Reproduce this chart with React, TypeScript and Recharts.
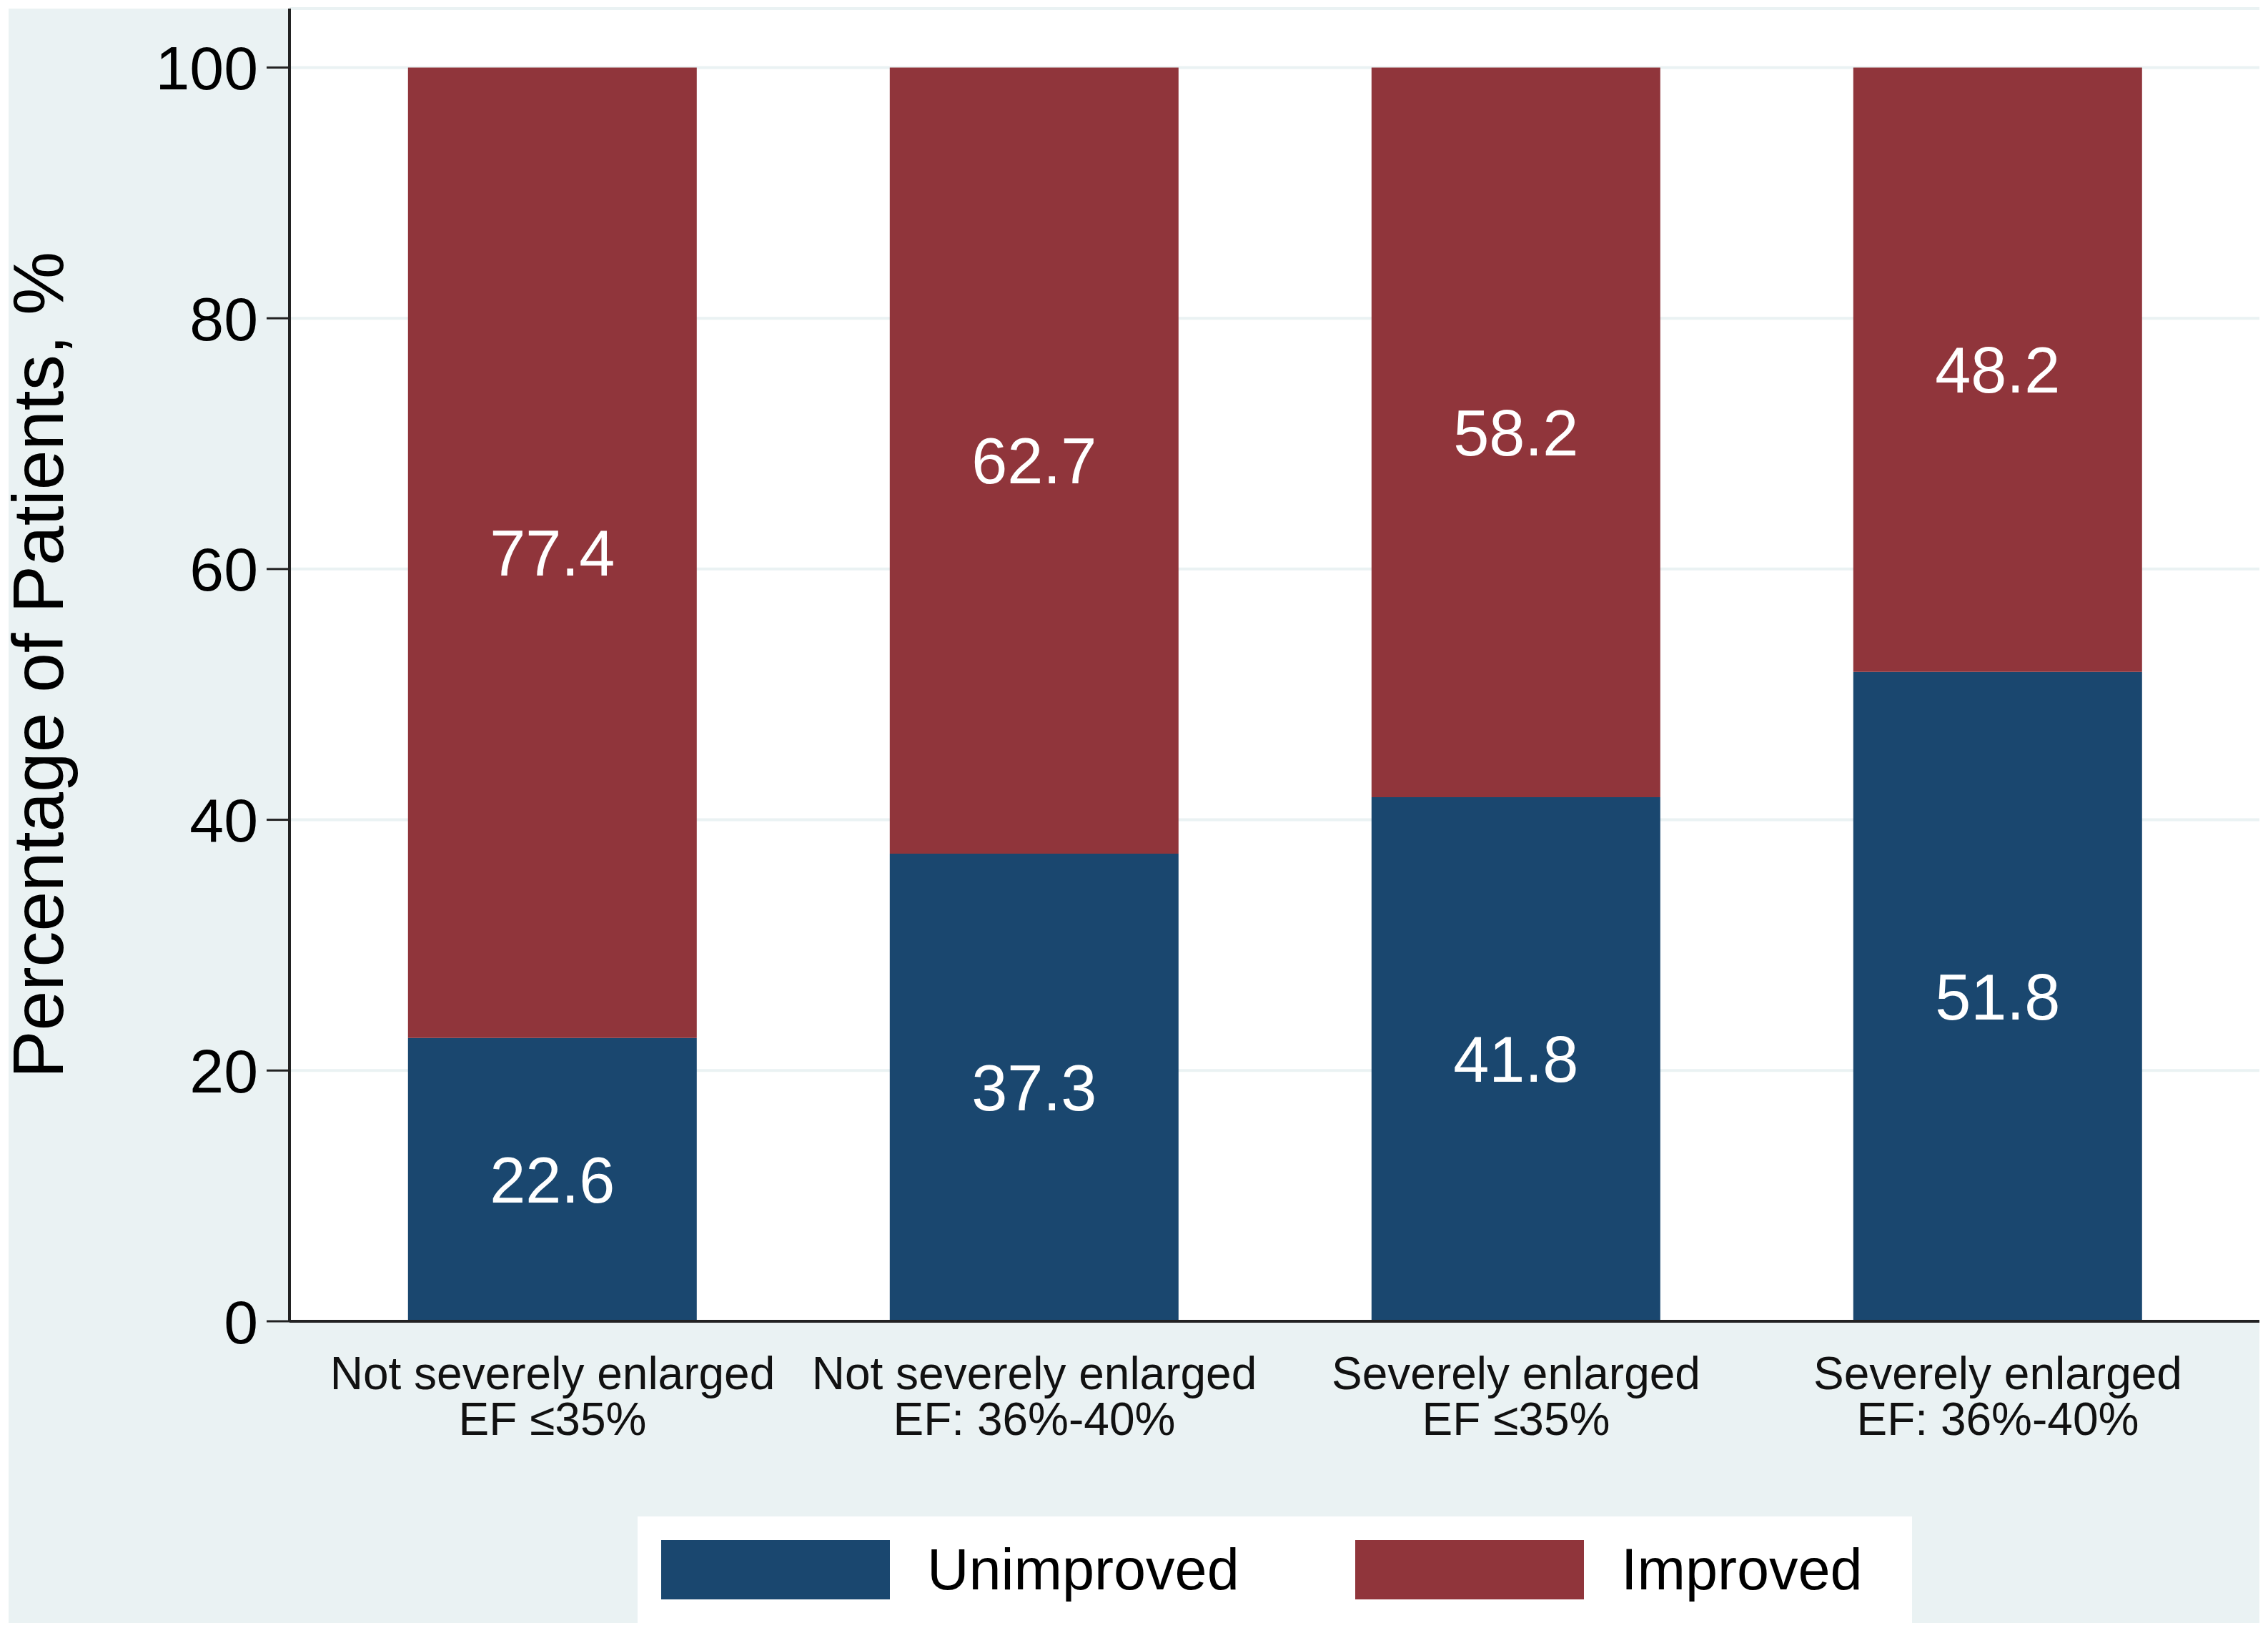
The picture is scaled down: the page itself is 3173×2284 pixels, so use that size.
import { BarChart, Bar, XAxis, YAxis, CartesianGrid, Legend, LabelList } from 'recharts';

// ── Data ──────────────────────────────────────────────────────────────────────

const categories = [
  'Not severely enlarged\nEF ≤35%',
  'Not severely enlarged\nEF: 36%-40%',
  'Severely enlarged\nEF ≤35%',
  'Severely enlarged\nEF: 36%-40%',
];
const unimproved = [22.6, 37.3, 41.8, 51.8];
const improved = [77.4, 62.7, 58.2, 48.2];
const yTicks = [0, 20, 40, 60, 80, 100];
const legendOrder = ['Unimproved', 'Improved'];

const rows = categories.map((name, i) => ({
  name,
  unimproved: unimproved[i],
  improved: improved[i],
}));

// ── Style ─────────────────────────────────────────────────────────────────────

const FONT = '"Liberation Sans", Arial, sans-serif';
const PANEL = '#eaf2f3';
const BLUE = '#1a476f';
const RED = '#90353b';

function CategoryTick({ x, y, payload }: any) {
  const lines = String(payload.value).split('\n');
  return (
    <text x={x} y={y} textAnchor="middle" fontSize={64} fill="#111" fontFamily={FONT}>
      {lines.map((l, i) => (
        <tspan key={i} x={x} dy={i === 0 ? 95 : 64}>{l}</tspan>
      ))}
    </text>
  );
}

function LegendBox({ payload }: any) {
  const items = [...(payload || [])].sort(
    (a: any, b: any) => legendOrder.indexOf(a.value) - legendOrder.indexOf(b.value),
  );
  return (
    <div
      style={{
        width: 1783,
        height: 149,
        background: '#fff',
        display: 'flex',
        alignItems: 'center',
        paddingLeft: 33,
        boxSizing: 'border-box',
      }}
    >
      {items.map((p: any, i: number) => (
        <div
          key={p.value}
          style={{ display: 'flex', alignItems: 'center', flexShrink: 0, width: i === 0 ? 971 : 'auto' }}
        >
          <div style={{ width: 320, height: 83, background: p.color }} />
          <span style={{ marginLeft: 52, fontSize: 81, fontFamily: FONT, color: '#000' }}>{p.value}</span>
        </div>
      ))}
    </div>
  );
}

export default function App() {
  return (
    <div style={{ position: 'absolute', left: 0, top: 0, width: 3173, height: 2284, background: '#fff' }}>
      <div style={{ position: 'absolute', left: 12, top: 12, width: 3149, height: 2258, background: PANEL }} />
      <div style={{ position: 'absolute', left: 0, top: 0 }}>
        <BarChart
          width={3173}
          height={2284}
          data={rows}
          margin={{ top: 12, right: 12, bottom: 14, left: 0 }}
          barCategoryGap="20%"
        >
          <CartesianGrid vertical={false} stroke={PANEL} strokeWidth={4} fill="#fff" />
          <XAxis
            dataKey="name"
            height={273}
            interval={0}
            tick={<CategoryTick />}
            tickLine={false}
            tickSize={0}
            tickMargin={0}
            axisLine={{ stroke: '#222', strokeWidth: 4 }}
            padding={{ left: 31, right: 29 }}
          />
          <YAxis
            width={405}
            domain={[0, 104.7]}
            ticks={yTicks}
            interval={0}
            tickSize={32}
            tickMargin={12}
            tickLine={{ stroke: '#222', strokeWidth: 3 }}
            axisLine={{ stroke: '#222', strokeWidth: 4 }}
            tick={{ fontSize: 86, fill: '#000', fontFamily: FONT }}
            label={{
              value: 'Percentage of Patients, %',
              angle: -90,
              position: 'insideLeft',
              offset: 52,
              fontSize: 100,
              fill: '#000',
              fontFamily: FONT,
              style: { textAnchor: 'middle' },
            }}
          />
          <Legend
            verticalAlign="bottom"
            content={<LegendBox />}
            wrapperStyle={{ left: 892, width: 1783, bottom: 14 }}
          />
          <Bar dataKey="unimproved" name="Unimproved" stackId="a" fill={BLUE} isAnimationActive={false}>
            <LabelList dataKey="unimproved" position="center" fill="#fff" fontSize={90} fontFamily={FONT} />
          </Bar>
          <Bar dataKey="improved" name="Improved" stackId="a" fill={RED} isAnimationActive={false}>
            <LabelList dataKey="improved" position="center" fill="#fff" fontSize={90} fontFamily={FONT} />
          </Bar>
        </BarChart>
      </div>
    </div>
  );
}
